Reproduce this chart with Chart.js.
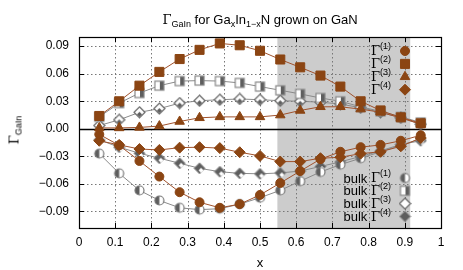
<!DOCTYPE html>
<html>
<head>
<meta charset="utf-8">
<script src="https://cdn.jsdelivr.net/npm/chart.js@4.4.0/dist/chart.umd.min.js"></script>
<style>
  html, body { margin: 0; padding: 0; background: #fff; }
  #wrap { position: relative; width: 463px; height: 270px; font-family: "Liberation Sans", Arial, sans-serif; color: #000; }
  canvas { position: absolute; left: 0; top: 0; }
  .lbl { position: absolute; white-space: nowrap; font-size: 13px; line-height: 1; }
  .g { font-family: "DejaVu Serif", "Liberation Serif", serif; }
  sub { font-size: 9px; vertical-align: -3px; line-height: 0; }
</style>
</head>
<body>
<div id="wrap">
  <canvas id="chart" width="463" height="270"></canvas>
  <div class="lbl" id="title"><span class="g">Γ</span><sub>GaIn</sub> for Ga<sub>x</sub>In<sub>1−x</sub>N grown on GaN</div>
  <div class="lbl" id="ytitle"><span class="g">Γ</span><sub>GaIn</sub></div>
  <div class="lbl" id="xtitle">x</div>
</div>
<script>
// composition points
const xVals = [0.056, 0.111, 0.167, 0.222, 0.278, 0.333, 0.389, 0.444, 0.5, 0.556, 0.611, 0.667, 0.722, 0.778, 0.833, 0.889, 0.944];

// grown on GaN
const gamma1 = [-0.006, -0.018, -0.035, -0.052, -0.069, -0.080, -0.086, -0.082, -0.072, -0.059, -0.046, -0.033, -0.025, -0.020, -0.0175, -0.013, -0.007];
const gamma2 = [0.014, 0.030, 0.047, 0.062, 0.076, 0.086, 0.093, 0.091, 0.085, 0.0755, 0.067, 0.058, 0.046, 0.030, 0.020, 0.0125, 0.006];
const gamma3 = [0.001, 0.001, 0.0015, 0.003, 0.008, 0.012, 0.013, 0.013, 0.013, 0.015, 0.020, 0.024, 0.024, 0.0215, 0.018, 0.012, 0.005];
const gamma4 = [-0.013, -0.0175, -0.022, -0.023, -0.0205, -0.020, -0.021, -0.0255, -0.0295, -0.0357, -0.0357, -0.032, -0.031, -0.027, -0.025, -0.019, -0.010];

// bulk
const bulk1 = [-0.027, -0.0485, -0.067, -0.078, -0.086, -0.088, -0.087, -0.082, -0.075, -0.067, -0.057, -0.047, -0.039, -0.032, -0.025, -0.018, -0.011];
const bulk2 = [0.013, 0.028, 0.039, 0.047, 0.052, 0.0525, 0.052, 0.050, 0.046, 0.042, 0.038, 0.0336, 0.030, 0.024, 0.019, 0.013, 0.007];
const bulk3 = [0.0036, 0.0098, 0.018, 0.022, 0.028, 0.0306, 0.0317, 0.0325, 0.0317, 0.0306, 0.030, 0.029, 0.027, 0.023, 0.018, 0.012, 0.005];
const bulk4 = [-0.012, -0.020, -0.0266, -0.032, -0.0375, -0.043, -0.0467, -0.0485, -0.049, -0.048, -0.046, -0.041, -0.036, -0.030, -0.024, -0.017, -0.013];

const xTicks = [0, 0.1, 0.2, 0.3, 0.4, 0.5, 0.6, 0.7, 0.8, 0.9, 1];
const yTicks = [-0.09, -0.06, -0.03, 0, 0.03, 0.06, 0.09];
const shadeRange = [0.548, 0.915];

const BROWN = '#8b4513';
const BROWN_LINE = '#a0522d';
const GRAY = '#5e5e5e';
const GRAY_LINE = '#8a8a8a';

// position the html labels
const place = (id, x, y, rot) => {
  const el = document.getElementById(id);
  el.style.left = x + 'px';
  el.style.top = y + 'px';
  el.style.transform = 'translate(-50%, -50%)' + (rot ? ' rotate(-90deg)' : '');
};
place('title', 260, 19);
place('ytitle', 14, 130, true);
place('xtitle', 260, 262);

// small canvases used as point styles for the bulk series
function marker(draw) {
  const c = document.createElement('canvas');
  c.width = 13; c.height = 13;
  const ctx = c.getContext('2d');
  draw(ctx, 6.5, 6.5);
  return c;
}
function diamondPath(ctx, cx, cy, r) {
  ctx.beginPath();
  ctx.moveTo(cx, cy - r); ctx.lineTo(cx + r, cy); ctx.lineTo(cx, cy + r); ctx.lineTo(cx - r, cy);
  ctx.closePath();
}
const halfCircle = marker((ctx, cx, cy) => {
  ctx.beginPath(); ctx.arc(cx, cy, 4.5, 0, Math.PI * 2); ctx.fillStyle = '#fff'; ctx.fill();
  ctx.beginPath(); ctx.arc(cx, cy, 4.5, Math.PI / 2, Math.PI * 1.5); ctx.closePath(); ctx.fillStyle = GRAY; ctx.fill();
  ctx.beginPath(); ctx.arc(cx, cy, 4.5, 0, Math.PI * 2); ctx.strokeStyle = '#777'; ctx.lineWidth = 1.2; ctx.stroke();
});
const halfSquare = marker((ctx, cx, cy) => {
  ctx.fillStyle = '#fff'; ctx.fillRect(cx - 4.5, cy - 4.5, 9, 9);
  ctx.fillStyle = GRAY; ctx.fillRect(cx + 0.5, cy - 4.5, 4, 9);
  ctx.strokeStyle = '#888'; ctx.lineWidth = 1.2; ctx.strokeRect(cx - 4.5, cy - 4.5, 9, 9);
});
const openDiamond = marker((ctx, cx, cy) => {
  diamondPath(ctx, cx, cy, 5.5); ctx.fillStyle = '#fff'; ctx.fill();
  ctx.strokeStyle = '#666'; ctx.lineWidth = 1.2; ctx.stroke();
  diamondPath(ctx, cx, cy + 2, 2.5); ctx.fillStyle = GRAY; ctx.fill();
});
const fullDiamond = marker((ctx, cx, cy) => {
  diamondPath(ctx, cx, cy, 5.5); ctx.fillStyle = GRAY; ctx.fill();
  ctx.strokeStyle = '#888'; ctx.lineWidth = 1; ctx.stroke();
  diamondPath(ctx, cx + 1.5, cy + 2, 2.5); ctx.fillStyle = '#fff'; ctx.fill();
});
const keyOpenDiamond = marker((ctx, cx, cy) => {
  diamondPath(ctx, cx, cy, 5.5); ctx.fillStyle = '#fff'; ctx.fill();
  ctx.strokeStyle = '#666'; ctx.lineWidth = 1.2; ctx.stroke();
});
const keyFullDiamond = marker((ctx, cx, cy) => {
  diamondPath(ctx, cx, cy, 5.5); ctx.fillStyle = GRAY; ctx.fill();
  ctx.strokeStyle = '#999'; ctx.lineWidth = 1; ctx.stroke();
});

const pts = ys => ys.map((y, i) => ({ x: xVals[i], y: y }));

function brownSet(label, ys, style, r) {
  return {
    label: label, data: pts(ys), showLine: true,
    borderColor: BROWN_LINE, borderWidth: 1,
    pointStyle: style, pointRadius: r,
    pointBackgroundColor: BROWN, pointBorderColor: BROWN, pointBorderWidth: 1
  };
}
function graySet(label, ys, img) {
  return {
    label: label, data: pts(ys), showLine: true,
    borderColor: GRAY_LINE, borderWidth: 1,
    pointStyle: img, pointRadius: 5
  };
}

const datasets = [
  brownSet('Γ(1)', gamma1, 'circle', 4.5),
  brownSet('Γ(2)', gamma2, 'rect', 6.4),
  brownSet('Γ(3)', gamma3, 'triangle', 5.5),
  brownSet('Γ(4)', gamma4, 'rectRot', 5.5),
  graySet('bulk Γ(1)', bulk1, halfCircle),
  graySet('bulk Γ(2)', bulk2, halfSquare),
  graySet('bulk Γ(3)', bulk3, openDiamond),
  graySet('bulk Γ(4)', bulk4, fullDiamond)
];

// legend keys
const keyTop = [
  { sup: '(1)', style: 'circle', r: 4.5 },
  { sup: '(2)', style: 'rect', r: 6.4 },
  { sup: '(3)', style: 'triangle', r: 5.5 },
  { sup: '(4)', style: 'rectRot', r: 5.5 }
];
const keyBulk = [
  { sup: '(1)', img: halfCircle },
  { sup: '(2)', img: halfSquare },
  { sup: '(3)', img: keyOpenDiamond },
  { sup: '(4)', img: keyFullDiamond }
];

function drawKeyText(ctx, prefix, sup, right, y) {
  ctx.textBaseline = 'middle';
  ctx.fillStyle = '#000';
  ctx.font = '9px "Liberation Sans", Arial, sans-serif';
  const wSup = ctx.measureText(sup).width;
  ctx.font = '13px "DejaVu Serif", "Liberation Serif", serif';
  const wG = ctx.measureText('Γ').width;
  ctx.textAlign = 'left';
  let x = right - wSup - wG;
  ctx.fillText('Γ', x, y + 1);
  ctx.font = '9px "Liberation Sans", Arial, sans-serif';
  ctx.fillText(sup, x + wG, y - 4);
  if (prefix) {
    ctx.font = '13px "Liberation Sans", Arial, sans-serif';
    ctx.textAlign = 'right';
    ctx.fillText(prefix + ' ', x, y + 1);
  }
}

const framePlugin = {
  id: 'frame',
  beforeDraw(chart) {
    const { ctx, chartArea: a, scales: { x } } = chart;
    ctx.save();
    ctx.fillStyle = '#cccccc';
    const x0 = x.getPixelForValue(shadeRange[0]);
    const x1 = x.getPixelForValue(shadeRange[1]);
    ctx.fillRect(x0, a.top, x1 - x0, a.bottom - a.top);
    ctx.restore();
  },
  beforeDatasetsDraw(chart) {
    const { ctx, chartArea: a, scales: { x, y } } = chart;
    ctx.save();
    ctx.strokeStyle = '#777';
    ctx.lineWidth = 1;
    ctx.setLineDash([1.5, 2.5]);
    xTicks.slice(1, -1).forEach(v => {
      const px = Math.round(x.getPixelForValue(v)) + 0.5;
      ctx.beginPath(); ctx.moveTo(px, a.top); ctx.lineTo(px, a.bottom); ctx.stroke();
    });
    yTicks.filter(v => v !== 0).forEach(v => {
      const py = Math.round(y.getPixelForValue(v)) + 0.5;
      ctx.beginPath(); ctx.moveTo(a.left, py); ctx.lineTo(a.right, py); ctx.stroke();
    });
    ctx.setLineDash([]);
    ctx.strokeStyle = '#000';
    // zero line
    const pz = Math.round(y.getPixelForValue(0)) + 0.5;
    ctx.lineWidth = 1.4;
    ctx.beginPath(); ctx.moveTo(a.left, pz); ctx.lineTo(a.right, pz); ctx.stroke();
    // inward ticks
    ctx.lineWidth = 1;
    xTicks.forEach(v => {
      const px = Math.round(x.getPixelForValue(v)) + 0.5;
      ctx.beginPath();
      ctx.moveTo(px, a.bottom); ctx.lineTo(px, a.bottom - 5);
      ctx.moveTo(px, a.top); ctx.lineTo(px, a.top + 5);
      ctx.stroke();
    });
    yTicks.forEach(v => {
      const py = Math.round(y.getPixelForValue(v)) + 0.5;
      ctx.beginPath();
      ctx.moveTo(a.left, py); ctx.lineTo(a.left + 5, py);
      ctx.moveTo(a.right, py); ctx.lineTo(a.right - 5, py);
      ctx.stroke();
    });
    ctx.restore();
  },
  afterDatasetsDraw(chart) {
    const { ctx, chartArea: a } = chart;
    ctx.save();
    ctx.lineWidth = 1.2;
    ctx.strokeStyle = '#000';
    ctx.strokeRect(Math.round(a.left) + 0.5, Math.round(a.top) + 0.5, Math.round(a.right - a.left), Math.round(a.bottom - a.top));

    keyTop.forEach((k, i) => {
      const yy = 51 + i * 12.9;
      drawKeyText(ctx, '', k.sup, 391, yy);
      ctx.fillStyle = BROWN; ctx.strokeStyle = BROWN; ctx.lineWidth = 1;
      Chart.helpers.drawPoint(ctx, { pointStyle: k.style, radius: k.r, borderWidth: 1 }, 405, yy);
    });
    keyBulk.forEach((k, i) => {
      const yy = 178 + i * 12.8;
      drawKeyText(ctx, 'bulk', k.sup, 391, yy);
      ctx.drawImage(k.img, 405 - 6.5, yy - 6.5);
    });
    ctx.restore();
  }
};

const fmtY = v => (v < 0 ? '−' : '') + Math.abs(v).toFixed(2);
const fmtX = v => (v === 0 || v === 1) ? String(v) : v.toFixed(1);
const tickFont = { family: '"Liberation Sans", Arial, sans-serif', size: 12 };

new Chart(document.getElementById('chart').getContext('2d'), {
  type: 'scatter',
  data: { datasets: datasets },
  options: {
    responsive: false,
    animation: false,
    devicePixelRatio: 1,
    layout: { padding: { left: 0, right: 22, top: 37, bottom: 0 } },
    plugins: { legend: { display: false }, tooltip: { enabled: false } },
    scales: {
      x: {
        type: 'linear', min: 0, max: 1,
        grid: { display: false, drawTicks: false },
        border: { display: false },
        afterBuildTicks: s => { s.ticks = xTicks.map(v => ({ value: v })); },
        afterFit: s => { s.height = 42; },
        ticks: { padding: 7, color: '#000', font: tickFont, maxRotation: 0, autoSkip: false, callback: v => fmtX(v) }
      },
      y: {
        type: 'linear', min: -0.108, max: 0.10,
        grid: { display: false, drawTicks: false },
        border: { display: false },
        afterBuildTicks: s => { s.ticks = yTicks.map(v => ({ value: v })); },
        afterFit: s => { s.width = 79; },
        ticks: { padding: 10, color: '#000', font: tickFont, callback: v => fmtY(v) }
      }
    }
  },
  plugins: [framePlugin]
});
</script>
</body>
</html>
